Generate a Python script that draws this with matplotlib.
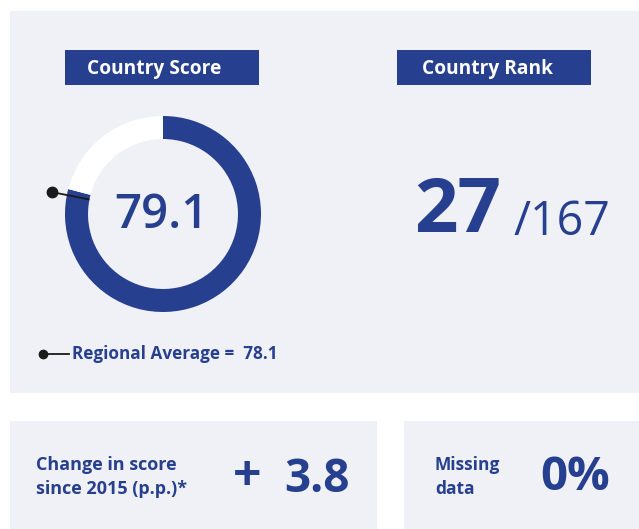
import matplotlib.pyplot as plt
from matplotlib.patches import Rectangle
import numpy as np

plt.rcParams['font.family'] = ['Open Sans', 'DejaVu Sans']

# data
score = 79.1
regional_avg = 78.1
rank = 27
n_countries = 167
change = 3.8
missing = 0

BLUE = "#263f8e"
PANEL = "#f0f1f7"

fig = plt.figure(figsize=(6.39, 5.29), dpi=100)
ax = fig.add_axes([0, 0, 1, 1])
ax.set_xlim(0, 639)
ax.set_ylim(529, 0)
ax.axis("off")

# panels (pixel layout)
ax.add_patch(Rectangle((10, 11), 640, 382, color=PANEL, lw=0))
ax.add_patch(Rectangle((10, 421), 367, 120, color=PANEL, lw=0))
ax.add_patch(Rectangle((404, 421), 240, 120, color=PANEL, lw=0))

# header boxes
ax.add_patch(Rectangle((65, 50), 194, 35, color=BLUE, lw=0))
ax.add_patch(Rectangle((397, 50), 194, 35, color=BLUE, lw=0))
ax.text(154, 69, "Country Score", color="white", fontsize=13.8, fontweight="bold",
        ha="center", va="center")
ax.text(488, 69, "Country Rank", color="white", fontsize=13.8, fontweight="bold",
        ha="center", va="center")

# donut
cx, cy, r = 163, 214, 98
lim = 1.2
w = 2 * lim * r
pax = fig.add_axes([(cx - w / 2) / 639, 1 - (cy + w / 2) / 529, w / 639, w / 529])
pax.pie([score, 100 - score], colors=[BLUE, "white"], startangle=90,
        counterclock=False, radius=1, wedgeprops=dict(width=0.235, lw=0))
pax.set_xlim(-lim, lim)
pax.set_ylim(-lim, lim)
pax.set_aspect("equal")
pax.axis("off")

# regional average marker
theta = np.deg2rad(90 - 360 * regional_avg / 100)
rr = np.array([0.765, 1.155])
pax.plot(rr * np.cos(theta), rr * np.sin(theta), color="#1a1a1a", lw=1.3,
         solid_capstyle="butt")
pax.plot(rr[1] * np.cos(theta), rr[1] * np.sin(theta), "o", color="#1a1a1a", ms=7.5)

ax.text(cx - 2, cy + 2, f"{score:.1f}", color=BLUE, fontsize=34, fontweight="semibold",
        ha="center", va="center")

# rank
ax.text(501, 212, f"{rank}", color=BLUE, fontsize=55, fontweight="bold",
        ha="right", va="center")
ax.text(514, 222, f"/{n_countries}", color=BLUE, fontsize=33.5,
        ha="left", va="center")

# regional average legend
ax.plot([43, 69], [354, 354], color="#1a1a1a", lw=1.3)
ax.plot([43], [354], "o", color="#1a1a1a", ms=6)
ax.text(72, 354, f"Regional Average =  {regional_avg:.1f}", color=BLUE, fontsize=12.3,
        fontweight="bold", ha="left", va="center")

# change in score
ax.text(36, 477, "Change in score\nsince 2015 (p.p.)*", color=BLUE, fontsize=13,
        fontweight="bold", ha="left", va="center", linespacing=1.4)
ax.text(247, 478, "+", color=BLUE, fontsize=36, fontweight="bold",
        ha="center", va="center")
ax.text(350, 480, f"{change:.1f}", color=BLUE, fontsize=33, fontweight="bold",
        ha="right", va="center")

# missing data
ax.text(435, 477, "Missing\ndata", color=BLUE, fontsize=12.5,
        fontweight="bold", ha="left", va="center", linespacing=1.4)
ax.text(610, 478, f"{missing}%", color=BLUE, fontsize=34, fontweight="bold",
        ha="right", va="center")

fig.savefig("out.png", dpi=100)
